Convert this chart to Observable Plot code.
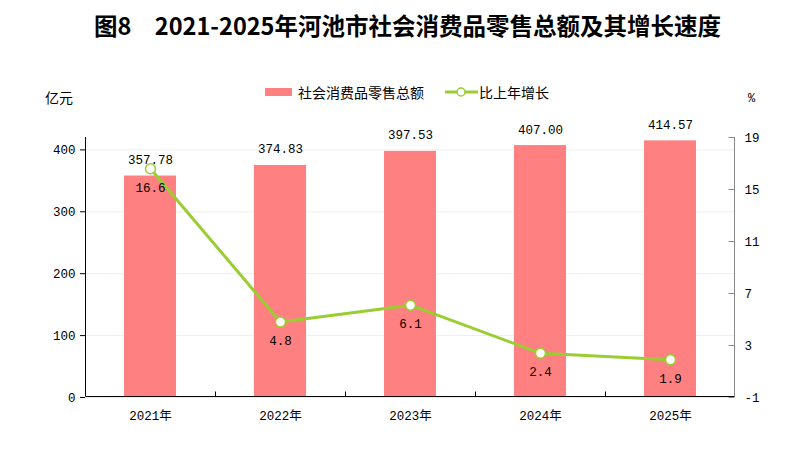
<!DOCTYPE html>
<html><head><meta charset="utf-8">
<script src="https://cdn.jsdelivr.net/npm/d3@7"></script>
<script src="https://cdn.jsdelivr.net/npm/@observablehq/plot@0.6"></script>
<style>
body{margin:0;background:#fff;width:811px;height:470px;overflow:hidden;font-family:"Noto Sans CJK SC",sans-serif;color:#000}
#title{height:52px;line-height:50px;text-align:center;font-weight:bold;font-size:23.5px;white-space:pre;padding-left:4px;box-sizing:border-box}
#head{position:relative;height:54px;font-size:14px}
#head span{position:absolute;line-height:20px;white-space:nowrap}
.sw{position:absolute}
svg{display:block}
</style></head>
<body>
<div id="title">图8　2021-2025年河池市社会消费品零售总额及其增长速度</div>
<div id="head">
  <span style="left:45px;top:35px">亿元</span>
  <div class="sw" style="left:265px;top:36px;width:27px;height:8px;background:#ff8080"></div>
  <span style="left:298px;top:30px">社会消费品零售总额</span>
  <svg class="sw" style="left:445px;top:33px" width="33" height="14"><line x1="0" x2="33" y1="7" y2="7" stroke="#9acd32" stroke-width="3"/><circle cx="16" cy="7" r="4" fill="#fff" stroke="#9acd32" stroke-width="1.5"/></svg>
  <span style="left:479px;top:30px">比上年增长</span>
  <span style="left:748px;top:37px;font-family:'Liberation Mono',monospace;font-size:12px">%</span>
</div>
<div id="chart"></div>
<script>
const years = ["2021年", "2022年", "2023年", "2024年", "2025年"];
const sales = [357.78, 374.83, 397.53, 407.00, 414.57];
const growth = [16.6, 4.8, 6.1, 2.4, 1.9];
const leftTicks = [0, 100, 200, 300, 400];
const rightTicks = [-1, 3, 7, 11, 15, 19];
const leftDomain = [0, 420];
const rightDomain = [-1, 19];

const toLeft = v => (v - rightDomain[0]) / (rightDomain[1] - rightDomain[0]) * (leftDomain[1] - leftDomain[0]) + leftDomain[0];
const fromLeft = d => (d - leftDomain[0]) / (leftDomain[1] - leftDomain[0]) * (rightDomain[1] - rightDomain[0]) + rightDomain[0];

const rows = years.map((y, i) => ({year: y, sales: sales[i], growth: growth[i], gy: toLeft(growth[i])}));
const mono = "'Liberation Mono', 'Noto Sans CJK SC', monospace";

function axisLines(index, scales, values, dims) {
  const {x, y} = scales;
  const {width, height, marginLeft, marginRight, marginBottom} = dims;
  const L = marginLeft + 0.5, R = width - marginRight - 0.5, T = y(leftDomain[1]), B = height - marginBottom - 0.5;
  const g = d3.create("svg:g").attr("fill", "none");
  g.append("line").attr("x1", L).attr("x2", L).attr("y1", T).attr("y2", B).attr("stroke", "#000");
  g.append("line").attr("x1", R).attr("x2", R).attr("y1", T).attr("y2", B).attr("stroke", "#888");
  g.append("line").attr("x1", L).attr("x2", R).attr("y1", B).attr("y2", B).attr("stroke", "#000");
  const step = x(years[1]) - x(years[0]);
  let bw = typeof x.bandwidth === "function" ? x.bandwidth() : x.bandwidth;
  if (!(bw >= 0)) bw = step * 0.4;
  years.slice(1).forEach((c, i) => {
    const bx = Math.round((x(years[i]) + bw + x(c)) / 2) + 0.5;
    g.append("line").attr("x1", bx).attr("x2", bx).attr("y1", B).attr("y2", B - 5).attr("stroke", "#000");
  });
  rightTicks.forEach(t => {
    const py = Math.round(y(toLeft(t))) + 0.5;
    g.append("line").attr("x1", R - 6).attr("x2", R).attr("y1", py).attr("y2", py).attr("stroke", "#888");
  });
  return g.node();
}

const chart = Plot.plot({
  width: 811,
  height: 364,
  marginTop: 31,
  marginBottom: 73,
  marginLeft: 85,
  marginRight: 76,
  style: {fontFamily: mono, fontSize: "12px", color: "#000", background: "#fff"},
  x: {domain: years, paddingInner: 0.6, paddingOuter: 0.3, label: null},
  y: {domain: leftDomain, label: null},
  marks: [
    Plot.gridY(leftTicks, {stroke: "#eeeeee", strokeOpacity: 1}),
    Plot.barY(rows, {x: "year", y: "sales", fill: "#ff8080"}),
    Plot.text(rows, {x: "year", y: "sales", text: d => d.sales.toFixed(2), dy: -16, fill: "#000", fontFamily: mono, fontSize: 12.5}),
    Plot.line(rows, {x: "year", y: "gy", stroke: "#9acd32", strokeWidth: 3}),
    Plot.dot(rows, {x: "year", y: "gy", r: 5, fill: "#fff", stroke: "#9acd32", strokeWidth: 1.5}),
    Plot.text(rows, {x: "year", y: "gy", text: d => d.growth.toFixed(1), dy: 19, fill: "#000", fontFamily: mono, fontSize: 12.5}),
    Plot.axisY({anchor: "left", ticks: leftTicks, tickSize: 5, tickPadding: 5, label: null, stroke: "#000", fontFamily: mono, fontSize: 12.5}),
    Plot.axisY({anchor: "right", ticks: rightTicks.map(toLeft), tickFormat: d => String(Math.round(fromLeft(d))), tickSize: 0, tickPadding: 9, label: null, fontFamily: mono, fontSize: 12.5}),
    Plot.axisX({anchor: "bottom", tickSize: 0, tickPadding: 14, label: null, fontFamily: mono, fontSize: 12.5}),
    axisLines
  ]
});
document.getElementById("chart").appendChild(chart);
</script>
</body></html>
